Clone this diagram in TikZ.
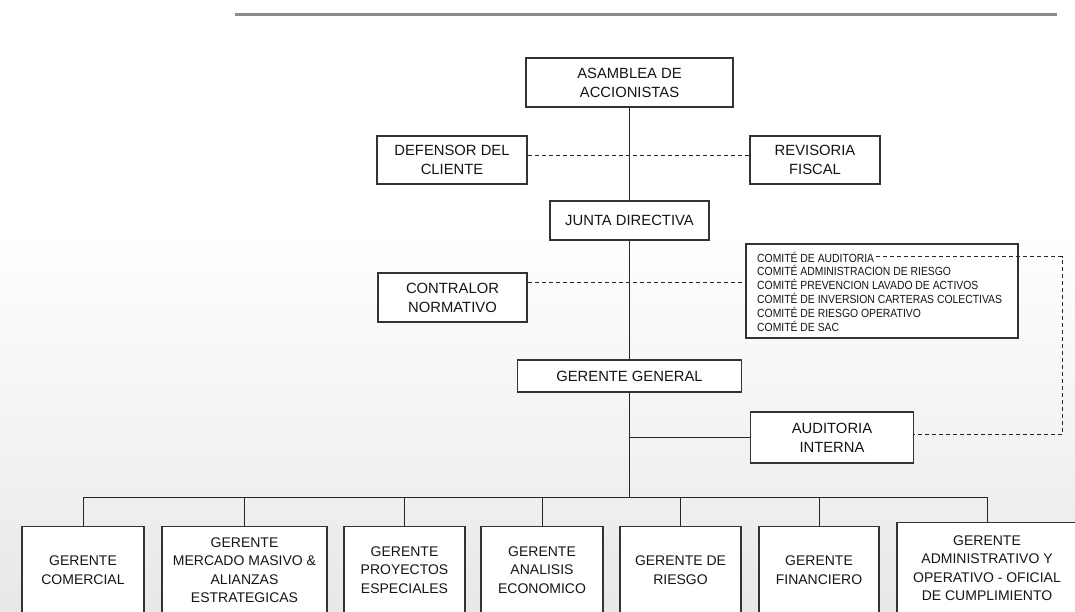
\documentclass[tikz,border=0pt]{standalone}
\usepackage{fontspec}
\setmainfont{Liberation Sans}
\newfontfamily\comitefont{Liberation Sans}[FakeStretch=0.88]
\definecolor{marco}{HTML}{333333}
\definecolor{texto}{HTML}{151515}
\tikzset{
  cargo/.style={draw=marco, line width=1.3pt, fill=white, text=texto, align=center,
    inner sep=0pt, font=\fontsize{14.8}{19}\selectfont},
  gerencia/.style={cargo, anchor=north, minimum height=87pt, font=\fontsize{14}{18.6}\selectfont},
  comite/.style={anchor=base west, inner sep=2pt, text=texto, font=\comitefont\fontsize{11.8}{14}\selectfont},
  linea/.style={draw=black!85, line width=1pt},
  punteada/.style={linea, dash pattern=on 4pt off 3pt},
}

\begin{document}
\begin{tikzpicture}[x=1pt,y=-1pt]
    \clip (0,0) rectangle (1075,611);
    \fill[white] (0,0) rectangle (1075,611);
    \shade[top color=white, bottom color=black!9] (0,611) rectangle (1075,230);
    \draw[black!45, line width=3pt] (235,14) -- (1057,14);

    % organos de gobierno
    \node[cargo, minimum width=207pt, minimum height=49pt] (asamblea) at (629.5,82.5) {ASAMBLEA DE\\ACCIONISTAS};
    \node[cargo, minimum width=150pt, minimum height=48pt] (defensor) at (452,160) {DEFENSOR DEL\\CLIENTE};
    \node[cargo, minimum width=130pt, minimum height=48pt] (revisoria) at (815,160) {REVISORIA\\FISCAL};
    \node[cargo, minimum width=159pt, minimum height=39pt] (junta) at (629.5,220.5) {JUNTA DIRECTIVA};
    \node[cargo, minimum width=149pt, minimum height=49pt] (contralor) at (452.5,297.5) {CONTRALOR\\NORMATIVO};
    \node[cargo, minimum width=272pt, minimum height=94pt] (comites) at (882,291) {};
    \foreach \txt [count=\i] in {COMITÉ DE AUDITORIA, COMITÉ ADMINISTRACION DE RIESGO,
        COMITÉ PREVENCION LAVADO DE ACTIVOS, COMITÉ DE INVERSION CARTERAS COLECTIVAS,
        COMITÉ DE RIESGO OPERATIVO, COMITÉ DE SAC}
        \node[comite] (c\i) at (755,{248.2+13.8*\i}) {\txt};
    \node[cargo, minimum width=224pt, minimum height=32pt] (gg) at (629.5,376) {GERENTE GENERAL};
    \node[cargo, minimum width=163pt, minimum height=51pt] (auditoria) at (832,437.5) {AUDITORIA\\INTERNA};

    % gerencias
    \node[gerencia, minimum width=122pt] (comercial) at (83,526) {GERENTE\\COMERCIAL};
    \node[gerencia, minimum width=165pt] (mercado) at (244.5,526) {GERENTE\\MERCADO MASIVO \&\\ALIANZAS\\ESTRATEGICAS};
    \node[gerencia, minimum width=121pt] (proyectos) at (404.5,526) {GERENTE\\PROYECTOS\\ESPECIALES};
    \node[gerencia, minimum width=122pt] (analisis) at (542,526) {GERENTE\\ANALISIS\\ECONOMICO};
    \node[gerencia, minimum width=121pt] (riesgo) at (680.5,526) {GERENTE DE\\RIESGO};
    \node[gerencia, minimum width=120pt] (financiero) at (819,526) {GERENTE\\FINANCIERO};
    \node[gerencia, minimum width=180pt, minimum height=91pt] (admin) at (987,522) {GERENTE\\ADMINISTRATIVO Y\\OPERATIVO - OFICIAL\\DE CUMPLIMIENTO};

    % lineas de mando
    \coordinate (bus) at (629.5,497);
    \draw[linea] (asamblea) -- (junta);
    \draw[linea] (junta) -- (gg);
    \draw[linea] (gg) -- (bus);
    \draw[linea] (gg.south |- auditoria.west) -- (auditoria.west);
    \draw[linea] (comercial.north |- bus) -- (admin.north |- bus);
    \foreach \g in {comercial,mercado,proyectos,analisis,riesgo,financiero,admin}
        \draw[linea] (\g.north |- bus) -- (\g.north);

    % relaciones de apoyo
    \draw[punteada] ([yshift=5pt]defensor.east) -- ([yshift=5pt]revisoria.west);
    \draw[punteada] ([yshift=15.5pt]contralor.east) -- ([yshift=15.5pt]contralor.east -| comites.west);
    \draw[punteada] (c1.east) -| ([xshift=148pt,yshift=3pt]auditoria.east) -- ([yshift=3pt]auditoria.east);
\end{tikzpicture}
\end{document}
